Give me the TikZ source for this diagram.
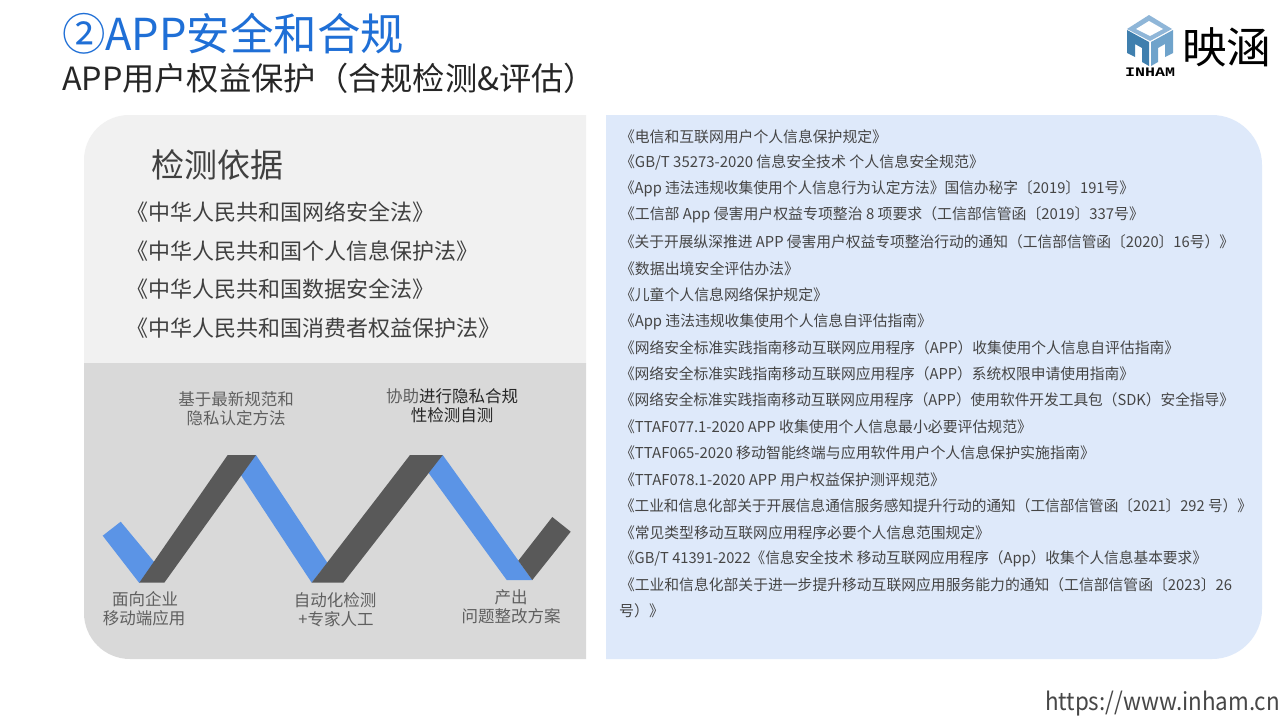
\documentclass[tikz,border=0pt]{standalone}
\usepackage{fontspec}
\usepackage{graphicx}
\setmainfont{Noto Sans CJK SC}
\newfontfamily\logofont{Liberation Mono}
\definecolor{titleblue}{HTML}{1F6FD6}
\definecolor{zigblue}{HTML}{5B94E6}
\definecolor{zigdark}{HTML}{595959}
\definecolor{panela}{HTML}{F1F1F1}
\definecolor{panelb}{HTML}{D9D9D9}
\definecolor{panelc}{HTML}{DEE9FA}
\definecolor{bodytxt}{HTML}{454545}
\definecolor{capt}{HTML}{5F5F5F}
\definecolor{lawtxt}{HTML}{404040}
\definecolor{logoa}{HTML}{3F7FAE}
\definecolor{logob}{HTML}{6FA3CB}
\definecolor{logoc}{HTML}{8FB6D8}
\newcommand{\fitw}[2]{\resizebox{#1pt}{\height}{#2}}
\tikzset{
  plain/.style={inner sep=0pt,outer sep=0pt,anchor=west},
  reg/.style={plain,yshift=-0.8pt,font=\fontsize{15}{15}\selectfont,text=bodytxt},
  law/.style={plain,font=\fontsize{22}{22}\selectfont,text=lawtxt},
  captxt/.style={inner sep=0pt,outer sep=0pt,anchor=center,yshift=-0.6pt,font=\fontsize{16.5}{16.5}\selectfont,text=capt},
}
\begin{document}
\begin{tikzpicture}[x=1pt,y=-1pt]
\useasboundingbox (0,0) rectangle (1280,720);
\fill[white] (0,0) rectangle (1280,720);
% panels
\fill[panela] (586,115) -- (586,363) -- (84,363) -- (84,160) .. controls (84,135.15) and (104.15,115) .. (129,115) -- cycle;
\fill[panelb] (84,363) -- (586,363) -- (586,659) -- (130,659) .. controls (104.6,659) and (84,638.4) .. (84,613) -- cycle;
\fill[panelc] (606,115) -- (1212,115) .. controls (1239.6,115) and (1262,137.4) .. (1262,165) -- (1262,609) .. controls (1262,636.6) and (1239.6,659) .. (1212,659) -- (606,659) -- cycle;
% titles
\node[plain,text=titleblue,font=\fontsize{44}{44}\selectfont] (title) at (62,34) {\fitw{342}{②APP安全和合规}};
\node[plain,text=black!85,font=\fontsize{32}{32}\selectfont] (subtitle) at (62,78) {\fitw{534}{APP用户权益保护（合规检测\&评估）}};
% left text
\node[plain,text=lawtxt,font=\fontsize{33}{33}\selectfont] (head) at (151,165) {检测依据};
\node[law] (l1) at (126,212) {《中华人民共和国网络安全法》};
\node[law] (l2) at (126,251) {《中华人民共和国个人信息保护法》};
\node[law] (l3) at (126,289) {《中华人民共和国数据安全法》};
\node[law] (l4) at (126,328) {《中华人民共和国消费者权益保护法》};
% zigzag
\fill[zigblue] (102.7,535.7) -- (120.7,521.7) -- (155,563) -- (139.3,583) -- cycle;
\fill[zigblue] (227.7,455) -- (256,455) -- (327.3,562.7) -- (311.7,582.7) -- cycle;
\fill[zigblue] (420,455) -- (442.7,455) -- (532.3,580) -- (506.7,580) -- (425,468) -- cycle;
\fill[zigdark] (139.3,582.7) -- (164.3,582.7) -- (256,455) -- (227.7,455) -- cycle;
\fill[zigdark] (311.7,582.7) -- (343.3,582.7) -- (442.7,455) -- (410,455) -- cycle;
\fill[zigdark] (518.3,560.7) -- (552.3,517) -- (570.7,531.7) -- (532.3,580) -- cycle;
% captions
\node[captxt] (c1a) at (236,399) {基于最新规范和};
\node[captxt] (c1b) at (236,418) {隐私认定方法};
\node[captxt] (c2a) at (452,396) {协助\textcolor{black!85}{进行隐私合规}};
\node[captxt,text=black!85] (c2b) at (452,415) {性检测自测};
\node[captxt] (c3a) at (145,599) {面向企业};
\node[captxt] (c3b) at (144,618) {移动端应用};
\node[captxt] (c4a) at (335,600) {自动化检测};
\node[captxt] (c4b) at (336,619) {+专家人工};
\node[captxt] (c5a) at (511,597) {产出};
\node[captxt] (c5b) at (511,616) {问题整改方案};
% regulations
\node[reg] (r1) at (620,136) {\fitw{267}{《电信和互联网用户个人信息保护规定》}};
\node[reg] (r2) at (620,162) {\fitw{364}{《GB/T 35273-2020 信息安全技术 个人信息安全规范》}};
\node[reg] (r3) at (620,188) {\fitw{514}{《App 违法违规收集使用个人信息行为认定方法》国信办秘字〔2019〕191号》}};
\node[reg] (r4) at (620,214) {\fitw{524}{《工信部 App 侵害用户权益专项整治 8 项要求（工信部信管函〔2019〕337号》}};
\node[reg] (r5) at (620,241) {\fitw{614}{《关于开展纵深推进 APP 侵害用户权益专项整治行动的通知（工信部信管函〔2020〕16号）》}};
\node[reg] (r6) at (620,268) {\fitw{179}{《数据出境安全评估办法》}};
\node[reg] (r7) at (620,294) {\fitw{208}{《儿童个人信息网络保护规定》}};
\node[reg] (r8) at (620,321) {\fitw{312}{《App 违法违规收集使用个人信息自评估指南》}};
\node[reg] (r9) at (620,347) {\fitw{559}{《网络安全标准实践指南移动互联网应用程序（APP）收集使用个人信息自评估指南》}};
\node[reg] (r10) at (620,373) {\fitw{514}{《网络安全标准实践指南移动互联网应用程序（APP）系统权限申请使用指南》}};
\node[reg] (r11) at (620,399) {\fitw{614}{《网络安全标准实践指南移动互联网应用程序（APP）使用软件开发工具包（SDK）安全指导》}};
\node[reg] (r12) at (620,426) {\fitw{412}{《TTAF077.1-2020 APP 收集使用个人信息最小必要评估规范》}};
\node[reg] (r13) at (620,452) {\fitw{475}{《TTAF065-2020 移动智能终端与应用软件用户个人信息保护实施指南》}};
\node[reg] (r14) at (620,479) {\fitw{325}{《TTAF078.1-2020 APP 用户权益保护测评规范》}};
\node[reg] (r15) at (620,505) {\fitw{632}{《工业和信息化部关于开展信息通信服务感知提升行动的通知（工信部信管函〔2021〕292 号）》}};
\node[reg] (r16) at (620,532) {\fitw{370}{《常见类型移动互联网应用程序必要个人信息范围规定》}};
\node[reg] (r17) at (620,558) {\fitw{587}{《GB/T 41391-2022《信息安全技术 移动互联网应用程序（App）收集个人信息基本要求》}};
\node[reg] (r18) at (620,584) {\fitw{612}{《工业和信息化部关于进一步提升移动互联网应用服务能力的通知（工信部信管函〔2023〕26}};
\node[reg] (r19) at (619,610) {号）》};
% footer
\node[plain,anchor=east,text=black!72,font=\fontsize{24.5}{24.5}\selectfont] (url) at (1280,704) {\fitw{235}{https://www.inham.cn}};
% logo
\fill[logoc] (1149,15) -- (1172,29) -- (1150,41) -- (1127,29) -- cycle;
\fill[white] (1149,21) -- (1163,29) -- (1150,36) -- (1136,29) -- cycle;
\fill[logoa] (1127,30) -- (1149,42) -- (1149,66) -- (1142,62) -- (1142,48) -- (1135,44) -- (1135,57) -- (1127,53) -- cycle;
\fill[logob] (1173,30) -- (1151,42) -- (1151,66) -- (1158,62) -- (1158,48) -- (1165,44) -- (1165,57) -- (1173,53) -- cycle;
\node[inner sep=0pt,font=\logofont\bfseries\fontsize{13}{13}\selectfont,text=black] (brand) at (1150,72) {\fitw{50}{INHAM}};
\node[plain,text=black,font=\fontsize{43}{43}\selectfont] (cname) at (1182,47) {\fitw{89}{映涵}};
\end{tikzpicture}
\end{document}
